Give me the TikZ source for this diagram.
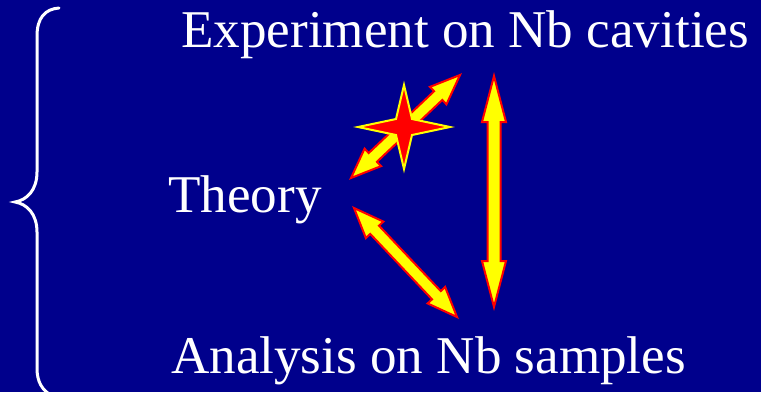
\documentclass[tikz,border=0pt]{standalone}
\usepackage{fontspec}
\setmainfont{Liberation Serif}
\usetikzlibrary{calc}
\definecolor{bgblue}{RGB}{0,0,140}
\definecolor{arrowyellow}{RGB}{255,255,0}
\definecolor{arrowred}{RGB}{255,0,0}
\tikzset{
  label text/.style={text=white, font=\fontsize{53.1}{60}\selectfont, inner sep=0pt, anchor=base west},
  fatarrow/.style={fill=arrowyellow, draw=arrowred, line width=2pt, line join=miter},
  starshape/.style={fill=arrowred, draw=arrowyellow, line width=2pt, line join=miter},
  bracestyle/.style={draw=white, line width=3pt, line cap=round}
}
% #1 from, #2 to, #3 head length, #4 shaft half width, #5 head half width
\newcommand\drawfatarrow[5]{%
  \coordinate (fP) at ($(#1)!#3!(#2)$);
  \coordinate (fQ) at ($(#2)!#3!(#1)$);
  \path[fatarrow] (#1)
    -- ($(fP)!#5!90:(#2)$) -- ($(fP)!#4!90:(#2)$)
    -- ($(fQ)!#4!-90:(#1)$) -- ($(fQ)!#5!-90:(#1)$)
    -- (#2)
    -- ($(fQ)!#5!90:(#1)$) -- ($(fQ)!#4!90:(#1)$)
    -- ($(fP)!#4!-90:(#2)$) -- ($(fP)!#5!-90:(#2)$)
    -- cycle;
}
\begin{document}
\begin{tikzpicture}[x=1pt,y=-1pt]
  \path[fill=bgblue] (0,0) rectangle (761,392);
  \useasboundingbox (0,0) rectangle (761,392);

  % brace
  \draw[bracestyle] (59,8) .. controls (45,9) and (37,18) .. (37,36)
     -- (37,172) .. controls (37,190) and (27,200) .. (15,202)
     .. controls (27,204) and (37,214) .. (37,232)
     -- (37,368) .. controls (37,382) and (42,390) .. (52,396);

  % texts
  \node[label text] (exp) at (181,47) {Experiment on Nb cavities};
  \node[label text] (theo) at (168,212) {Theory};
  \node[label text] (ana) at (171,373) {Analysis on Nb samples};

  % arrow endpoints
  \coordinate (a1) at (351,178);
  \coordinate (a2) at (460,75);
  \coordinate (b1) at (494,76);
  \coordinate (b2) at (494,307);
  \coordinate (c1) at (354,208);
  \coordinate (c2) at (457,317);

  \drawfatarrow{a1}{a2}{30pt}{6pt}{12pt}
  \drawfatarrow{b1}{b2}{46pt}{6.5pt}{12pt}
  \drawfatarrow{c1}{c2}{30pt}{6pt}{12pt}

  % star
  \coordinate (star) at (404,127);
  \path[starshape] (404,85) -- (412,119) -- (450,127) -- (412,135)
     -- (404,169) -- (396,135) -- (358,127) -- (396,119) -- cycle;
\end{tikzpicture}
\end{document}
